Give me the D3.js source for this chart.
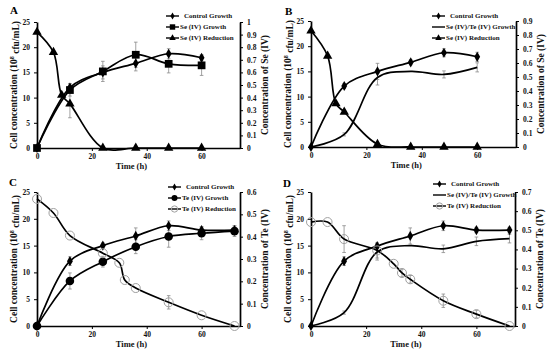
<!DOCTYPE html>
<html>
<head>
<meta charset="utf-8">
<script src="https://cdn.jsdelivr.net/npm/d3@7"></script>
<style>
  body { margin: 0; background: #fff; }
  text { font-family: "Liberation Serif", "DejaVu Serif", serif; font-weight: bold; }
</style>
</head>
<body>
<script>
// ---- data ----
// growth curves are in 10^8 cfu/mL (left axis), reductions on the right axis
const timeA = [0, 12, 24, 36, 48, 60];
const controlA = [0, 12.0, 15.0, 16.8, 18.7, 17.9];
const controlErrA = [0, 0.8, 1.3, 1.5, 1.0, 0.6];
const seGrowthA = [0, 11.5, 15.2, 18.5, 16.7, 16.4];
const seGrowthErrA = [0, 1.2, 2.0, 2.5, 1.8, 2.0];
const redTimeA = [0, 6, 9, 12, 24, 36, 48, 60];
const seRedA = [0.92, 0.76, 0.42, 0.35, 0, 0, 0, 0];
const seRedErrA = [0, 0, 0, 0.11, 0, 0, 0, 0];

const timeB = [0, 12, 24, 36, 48, 60];
const controlB = [0, 12.1, 15.0, 16.8, 18.7, 17.9];
const controlErrB = [0, 0.5, 1.6, 0.5, 0.8, 0.9];
const seTeGrowthB = [0, 2.5, 13.8, 15.0, 14.4, 15.8];
const seTeGrowthErrB = [0, 0.3, 1.5, 0, 0.7, 0.9];
const redTimeB = [0, 6, 9, 12, 24, 36, 48, 60];
const seRedB = [0.83, 0.65, 0.31, 0.25, 0.02, 0, 0, 0];
const seRedErrB = [0, 0, 0, 0, 0.01, 0, 0, 0];

const timeC = [0, 12, 24, 36, 48, 60, 72];
const controlC = [0, 12.1, 15.0, 16.8, 18.7, 17.9, 17.9];
const controlErrC = [0, 0.8, 0.5, 1.5, 0.9, 0.6, 0.8];
const teGrowthC = [0, 8.4, 12.0, 14.8, 16.7, 17.3, 17.7];
const teGrowthErrC = [0, 1.5, 1.0, 1.3, 2.0, 1.2, 1.0];
const redTimeC = [0, 6, 12, 24, 30, 32, 36, 48, 60, 72];
const teRedC = [0.569, 0.506, 0.405, 0.326, 0.283, 0.206, 0.170, 0.106, 0.048, 0];
const teRedErrC = [0, 0, 0, 0, 0, 0, 0, 0.03, 0, 0];

const timeD = [0, 12, 24, 36, 48, 60, 72];
const controlD = [0, 12.1, 14.9, 16.8, 18.7, 17.9, 17.9];
const controlErrD = [0, 0.8, 0.5, 1.5, 0.9, 0.5, 0.5];
const seTeGrowthD = [0, 2.5, 13.8, 15.0, 14.4, 15.8, 16.3];
const seTeGrowthErrD = [0, 0.3, 1.5, 0, 0.7, 0.8, 0.8];
const redTimeD = [0, 6, 12, 24, 30, 33, 36, 48, 60, 72];
const teRedD = [0.543, 0.543, 0.454, 0.395, 0.325, 0.277, 0.244, 0.132, 0.062, 0];
const teRedErrD = [0, 0, 0.07, 0.04, 0, 0.02, 0.02, 0.035, 0.02, 0];

const xTicks = [0, 20, 40, 60];
const leftTicks = [0, 5, 10, 15, 20, 25];

// ---- svg ----
const svg = d3.select("body")
    .append("svg")
        .attr("width", 553)
        .attr("height", 353);

const zip = (t, v, e) => t.map((d, i) => ({t: d, v: v[i], e: e[i]}));

function drawPanel(p) {
    const g = svg.append("g")
        .attr("transform", `translate(${p.left},${p.top})`);

    const x = d3.scaleLinear().domain([0, 74]).range([0, p.width]);
    const y = d3.scaleLinear().domain([0, 25]).range([p.height, 0]);
    const y2 = d3.scaleLinear().domain([0, p.rightMax]).range([p.height, 0]);

    // axes
    const styleAxis = sel => {
        sel.select(".domain").attr("stroke", "#000").attr("stroke-width", 1.7);
        sel.selectAll(".tick line").attr("stroke", "#000").attr("stroke-width", 1);
        sel.selectAll(".tick text")
            .style("font-family", '"Liberation Serif", serif')
            .style("font-weight", "bold")
            .style("font-size", "7.5px")
            .attr("fill", "#111");
    };

    g.append("g")
        .attr("transform", `translate(0,${p.height})`)
        .call(d3.axisBottom(x).tickValues(xTicks).tickSize(3).tickSizeOuter(0).tickPadding(3))
        .call(styleAxis);

    g.append("g")
        .call(d3.axisLeft(y).tickValues(leftTicks).tickSize(3).tickSizeOuter(0).tickPadding(4))
        .call(styleAxis);

    const rightTicks = d3.range(0, Math.round(p.rightMax * 10) + 1).map(d => d / 10);
    g.append("g")
        .attr("transform", `translate(${p.width},0)`)
        .call(d3.axisRight(y2).tickValues(rightTicks).tickSize(3).tickSizeOuter(0).tickPadding(4)
            .tickFormat(d => d === 0 ? "0" : d === 1 ? "1" : d3.format(".1f")(d)))
        .call(styleAxis);

    // axis titles
    g.append("text")
        .attr("transform", `translate(${-23},${p.height / 2}) rotate(-90)`)
        .attr("dy", "0.35em")
        .style("text-anchor", "middle")
        .style("font-size", "9.5px")
        .attr("fill", "#111")
        .text("Cell concentration (10")
        .append("tspan").attr("dy", "-0.5em").style("font-size", "6px").text("8")
        .select(function() { return this.parentNode; })
        .append("tspan").attr("dy", "0.5em").text(" cfu/mL)");

    g.append("text")
        .attr("transform", `translate(${p.width + 25},${p.height / 2}) rotate(-90)`)
        .attr("dy", "0.35em")
        .style("text-anchor", "middle")
        .style("font-size", "9.5px")
        .attr("fill", "#111")
        .text(p.rightTitle);

    g.append("text")
        .attr("x", p.width * 0.465)
        .attr("y", p.height + 21)
        .style("text-anchor", "middle")
        .style("font-size", "8.5px")
        .attr("fill", "#111")
        .text("Time (h)");

    // panel letter
    svg.append("text")
        .attr("x", p.letterX)
        .attr("y", p.letterY)
        .style("font-size", "11px")
        .attr("fill", "#000")
        .text(p.letter);

    const line = scale => d3.line()
        .curve(d3.curveCatmullRom.alpha(0.5))
        .x(d => x(d.t))
        .y(d => scale(d.v));

    // error bars first
    p.series.forEach(s => {
        const sc = s.right ? y2 : y;
        s.data.filter(d => d.e > 0).forEach(d => {
            const eb = g.append("g").attr("stroke", "#8a8a8a").attr("stroke-width", 0.8);
            eb.append("line").attr("x1", x(d.t)).attr("x2", x(d.t))
                .attr("y1", sc(d.v - d.e)).attr("y2", sc(d.v + d.e));
            [d.v - d.e, d.v + d.e].forEach(v => {
                eb.append("line").attr("x1", x(d.t) - 1.8).attr("x2", x(d.t) + 1.8)
                    .attr("y1", sc(v)).attr("y2", sc(v));
            });
        });
    });

    // lines and markers
    p.series.forEach(s => {
        const sc = s.right ? y2 : y;
        g.append("path")
            .datum(s.data)
            .attr("fill", "none")
            .attr("stroke", "#000")
            .attr("stroke-width", 1.7)
            .attr("d", line(sc));
        drawMarkers(g, s.marker, s.data.map(d => [x(d.t), sc(d.v)]));
    });

    // legend
    p.series.forEach((s, i) => {
        const ly = p.legendY + i * p.legendStep;
        svg.append("line")
            .attr("x1", p.legendX).attr("x2", p.legendX + 13)
            .attr("y1", ly).attr("y2", ly)
            .attr("stroke", "#000").attr("stroke-width", 1.4);
        drawMarkers(svg, s.marker, [[p.legendX + 6.5, ly]], 0.7);
        svg.append("text")
            .attr("x", p.legendX + (i === 0 ? 18 : 14))
            .attr("y", ly)
            .attr("dy", "0.33em")
            .style("font-size", "7px")
            .attr("fill", "#111")
            .text(s.name);
    });
}

function drawMarkers(g, marker, pts, k = 1) {
    if (marker === "none") return;
    pts.forEach(([px, py]) => {
        if (marker === "open") {
            g.append("circle").attr("cx", px).attr("cy", py).attr("r", 4.5 * k)
                .attr("fill", "none").attr("stroke", "#a0a0a0").attr("stroke-width", 1);
            return;
        }
        const types = {diamond: [d3.symbolDiamond, 30], square: [d3.symbolSquare, 60],
                       triangle: [d3.symbolTriangle, 38], circle: [d3.symbolCircle, 58]};
        const [type, size] = types[marker];
        g.append("path")
            .attr("transform", `translate(${px},${py})`)
            .attr("d", d3.symbol().type(type).size(size * k * k)())
            .attr("fill", "#000");
    });
}

drawPanel({
    letter: "A", letterX: 10, letterY: 14,
    left: 37, top: 22, width: 203, height: 126, rightMax: 1,
    rightTitle: "Concentration of Se (IV)",
    legendX: 166, legendY: 16, legendStep: 11,
    series: [
        {name: "Control Growth", marker: "diamond", data: zip(timeA, controlA, controlErrA)},
        {name: "Se (IV) Growth", marker: "square", data: zip(timeA, seGrowthA, seGrowthErrA)},
        {name: "Se (IV) Reduction", marker: "triangle", right: true, data: zip(redTimeA, seRedA, seRedErrA)}
    ]
});

drawPanel({
    letter: "B", letterX: 285, letterY: 15,
    left: 311, top: 21, width: 205, height: 126, rightMax: 0.9,
    rightTitle: "Concentration of Se (IV)",
    legendX: 432, legendY: 16, legendStep: 11,
    series: [
        {name: "Control Growth", marker: "diamond", data: zip(timeB, controlB, controlErrB)},
        {name: "Se (IV)/Te (IV) Growth", marker: "none", data: zip(timeB, seTeGrowthB, seTeGrowthErrB)},
        {name: "Se (IV) Reduction", marker: "triangle", right: true, data: zip(redTimeB, seRedB, seRedErrB)}
    ]
});

drawPanel({
    letter: "C", letterX: 9, letterY: 186,
    left: 37, top: 192, width: 203, height: 134, rightMax: 0.6,
    rightTitle: "Concentration of Te (IV)",
    legendX: 168, legendY: 187, legendStep: 11,
    series: [
        {name: "Control Growth", marker: "diamond", data: zip(timeC, controlC, controlErrC)},
        {name: "Te (IV) Growth", marker: "circle", data: zip(timeC, teGrowthC, teGrowthErrC)},
        {name: "Te (IV) Reduction", marker: "open", right: true, data: zip(redTimeC, teRedC, teRedErrC)}
    ]
});

drawPanel({
    letter: "D", letterX: 283, letterY: 187,
    left: 311, top: 192, width: 204, height: 134, rightMax: 0.7,
    rightTitle: "Concentration of Te (IV)",
    legendX: 433, legendY: 184, legendStep: 11,
    series: [
        {name: "Control Growth", marker: "diamond", data: zip(timeD, controlD, controlErrD)},
        {name: "Se (IV)/Te (IV) Growth", marker: "none", data: zip(timeD, seTeGrowthD, seTeGrowthErrD)},
        {name: "Te (IV) Reduction", marker: "open", right: true, data: zip(redTimeD, teRedD, teRedErrD)}
    ]
});
</script>
</body>
</html>
